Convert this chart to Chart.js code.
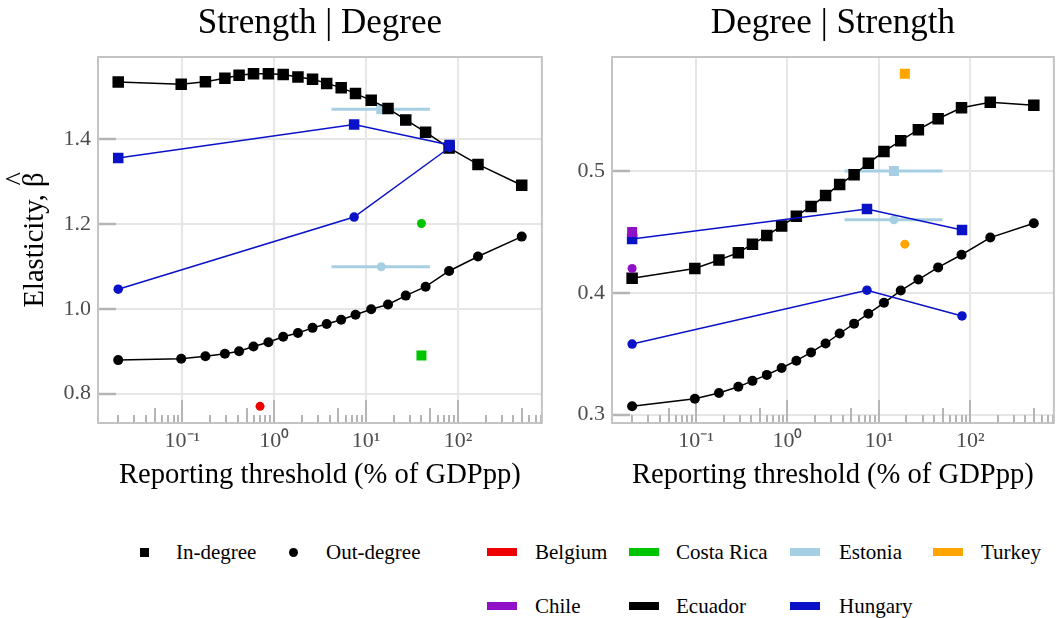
<!DOCTYPE html>
<html>
<head>
<meta charset="utf-8">
<script src="https://cdn.jsdelivr.net/npm/chart.js@4.4.1/dist/chart.umd.min.js"></script>
<style>
  html, body { margin: 0; padding: 0; background: #ffffff; }
  #page { position: relative; width: 1058px; height: 618px; overflow: hidden; background: #ffffff;
          font-family: 'Liberation Serif', 'Times New Roman', serif; }
  #leftWrap { position: absolute; left: 0; top: 0; width: 550px; height: 500px; }
  #rightWrap { position: absolute; left: 550px; top: 0; width: 508px; height: 500px; overflow: hidden; }
  .key { position: absolute; }
  .txt { position: absolute; font-size: 21px; line-height: 24px; color: #000; white-space: nowrap; }
</style>
</head>
<body>
<div id="page">
  <div id="leftWrap"><canvas id="left" width="550" height="500"></canvas></div>
  <div id="rightWrap"><canvas id="right" width="512" height="500"></canvas></div>
  <div id="legend"></div>
</div>
<script>
// ---- thresholds (% of GDP per person) used for the Ecuador sweep ----
const thresholds = [0.02, 0.097, 0.178, 0.29, 0.414, 0.594, 0.863, 1.25, 1.81, 2.61,
                    3.72, 5.35, 7.66, 11.35, 17.3, 27, 44.4, 80, 165, 494];

// Strength | Degree panel
const ecuadorInSD  = [1.534, 1.529, 1.535, 1.543, 1.550, 1.554, 1.554, 1.552, 1.546, 1.541,
                      1.531, 1.521, 1.507, 1.491, 1.472, 1.445, 1.416, 1.379, 1.340, 1.291];
const ecuadorOutSD = [0.879, 0.882, 0.888, 0.894, 0.900, 0.911, 0.921, 0.934, 0.943, 0.955,
                      0.964, 0.974, 0.986, 0.999, 1.010, 1.031, 1.052, 1.089, 1.123, 1.170];
// Degree | Strength panel
const ecuadorInDS  = [0.412, 0.420, 0.427, 0.433, 0.440, 0.447, 0.455, 0.463, 0.471, 0.480,
                      0.489, 0.497, 0.5065, 0.516, 0.525, 0.534, 0.543, 0.552, 0.5565, 0.554];
const ecuadorOutDS = [0.3068, 0.313, 0.3177, 0.3228, 0.3277, 0.3326, 0.3383, 0.3443, 0.3511, 0.3584,
                      0.3666, 0.3747, 0.3829, 0.3918, 0.4019, 0.4109, 0.4209, 0.4313, 0.4454, 0.4571];

const hungaryThresholds = [0.02, 7.4, 81];
const hungaryInSD  = [1.355, 1.434, 1.386];
const hungaryOutSD = [1.046, 1.216, 1.380];
const hungaryInDS  = [0.4443, 0.4688, 0.4516];
const hungaryOutDS = [0.3579, 0.4022, 0.381];

const estoniaThreshold = 14.6;
const estoniaRange = [4.2, 49.4];
const estoniaSD = [1.470, 1.099];   // in, out
const estoniaDS = [0.500, 0.460];

const costaRicaThreshold = 40;
const costaRicaSD = [0.890, 1.201]; // in, out

const belgiumThreshold = 0.70;
const belgiumOutSD = 0.770;

const chileThreshold = 0.02;
const chileDS = [0.450, 0.420];     // in, out

const turkeyThreshold = 19.2;
const turkeyDS = [0.580, 0.440];    // in, out

// axis ticks
const xTickValues = [0.1, 1, 10, 100];
const xTickLabels = ['10\u207B\u00B9', '10\u2070', '10\u00B9', '10\u00B2'];
const yTicksSD = [0.8, 1.0, 1.2, 1.4];
const yTicksDS = [0.3, 0.4, 0.5];

const panelTitles = ['Strength | Degree', 'Degree | Strength'];
const xTitle = 'Reporting threshold (% of GDPpp)';
const yTitle = 'Elasticity, \u03B2';   // the estimator hat is added by the betaHat plugin

const countries = ['Belgium', 'Costa Rica', 'Estonia', 'Turkey', 'Chile', 'Ecuador', 'Hungary'];
const countryColors = {
  'Belgium': '#ee0000', 'Costa Rica': '#00c400', 'Estonia': '#a6cfe4', 'Turkey': '#ffa500',
  'Chile': '#9010c8', 'Ecuador': '#000000', 'Hungary': '#0a12c8'
};

const FONT = "'Liberation Serif', 'Times New Roman', serif";
Chart.defaults.font.family = FONT;
const TITLE_SIZE = 28.6;

// ---- helpers ----
const pts = (xs, ys) => xs.map((x, i) => ({ x: x, y: ys[i] }));

function marks(label, data, color, shape, withLine, size) {
  const square = shape === 'rect';
  return {
    label: label,
    data: data,
    showLine: withLine,
    borderColor: color,
    borderWidth: 1.5,
    backgroundColor: color,
    pointStyle: shape,
    pointRadius: square ? size / Math.SQRT2 : size / 2,
    pointBorderWidth: 0,
    pointBackgroundColor: color,
    pointHoverRadius: 0
  };
}

function bar(label, lo, hi, y, color) {
  return {
    label: label,
    data: [{ x: lo, y: y }, { x: hi, y: y }],
    showLine: true,
    borderColor: color,
    borderWidth: 3,
    pointRadius: 0,
    pointHoverRadius: 0
  };
}

// frame, inward y ticks and log ticks along the bottom of each panel
const panelFrame = {
  id: 'panelFrame',
  beforeDatasetsDraw(chart) {
    const { ctx, chartArea: a } = chart;
    const x = chart.scales.x, y = chart.scales.y;
    ctx.save();
    ctx.strokeStyle = '#b5b5b5';
    ctx.lineWidth = 2;
    const lo = Math.floor(Math.log10(x.min)), hi = Math.ceil(Math.log10(x.max));
    for (let e = lo; e <= hi; e++) {
      for (let k = 1; k <= 9; k++) {
        const v = k * Math.pow(10, e);
        if (v < x.min || v > x.max) continue;
        const px = Math.round(x.getPixelForValue(v));
        const len = k === 1 ? 23 : (k === 5 ? 15 : 8);
        ctx.beginPath();
        ctx.moveTo(px, a.bottom);
        ctx.lineTo(px, a.bottom - len);
        ctx.stroke();
      }
    }
    ctx.lineWidth = 2.5;
    y.ticks.forEach(t => {
      const py = Math.round(y.getPixelForValue(t.value));
      ctx.beginPath();
      ctx.moveTo(a.left, py);
      ctx.lineTo(a.left + 18, py);
      ctx.stroke();
    });
    ctx.strokeStyle = '#c4c4c4';
    ctx.lineWidth = 2;
    ctx.strokeRect(a.left, a.top, a.right - a.left, a.bottom - a.top);
    ctx.restore();
  }
};

// circumflex over the beta of the y-axis title (estimate notation)
const betaHat = {
  id: 'betaHat',
  afterDraw(chart) {
    const s = chart.scales.y;
    const t = s.options.title;
    if (!t.display) return;
    const pad = t.padding.top || 0;
    const lineHeight = TITLE_SIZE * 1.2;
    const cx = s.left + lineHeight / 2 + pad;
    const cy = (s.top + s.bottom) / 2;
    const ctx = chart.ctx;
    ctx.save();
    ctx.font = TITLE_SIZE + 'px ' + FONT;
    ctx.textBaseline = 'middle';
    ctx.textAlign = 'center';
    const W = ctx.measureText(t.text).width;
    const mb = ctx.measureText('\u03B2');
    const mh = ctx.measureText('^');
    ctx.translate(cx, cy);
    ctx.rotate(-Math.PI / 2);
    const bx = W / 2 - mb.width / 2 + 1;
    const betaTop = -mb.actualBoundingBoxAscent;
    const yy = betaTop - 2 - mh.actualBoundingBoxDescent;
    ctx.fillStyle = '#000';
    ctx.fillText('^', bx, yy);
    ctx.restore();
  }
};

function panelOptions(title, yMin, yMax, yTicks, yWidth, showYTitle, padRight) {
  return {
    responsive: false,
    animation: false,
    devicePixelRatio: 1,
    layout: { padding: { left: 0, right: padRight, top: 0, bottom: 0 } },
    plugins: {
      legend: { display: false },
      tooltip: { enabled: false },
      title: {
        display: true, text: title, fullSize: false, color: '#000',
        font: { family: FONT, size: 35, weight: 'normal' },
        padding: { top: 3, bottom: 12 }
      }
    },
    scales: {
      x: {
        type: 'logarithmic',
        min: Math.pow(10, -1.919), max: Math.pow(10, 2.913),
        bounds: 'data',
        afterBuildTicks: s => { s.ticks = xTickValues.map(v => ({ value: v })); },
        afterFit: s => { s.height = 77; },
        ticks: {
          autoSkip: false, maxRotation: 0, padding: 5, color: '#4d4d4d',
          font: { family: FONT, size: 22 },
          callback: (v, i) => xTickLabels[i]
        },
        grid: { color: '#e6e6e6', lineWidth: 2, drawTicks: false },
        border: { display: false },
        title: {
          display: true, text: xTitle, color: '#000',
          font: { family: FONT, size: TITLE_SIZE }, padding: { top: 0, bottom: 7 }
        }
      },
      y: {
        type: 'linear', min: yMin, max: yMax, bounds: 'data',
        afterBuildTicks: s => { s.ticks = yTicks.map(v => ({ value: v })); },
        afterFit: s => { s.width = yWidth; },
        ticks: {
          padding: 7, color: '#4d4d4d', font: { family: FONT, size: 22 },
          callback: v => Number(v).toFixed(1)
        },
        grid: { color: '#e6e6e6', lineWidth: 2, drawTicks: false },
        border: { display: false },
        title: {
          display: showYTitle, text: yTitle, color: '#000',
          font: { family: FONT, size: TITLE_SIZE }, padding: { top: 18, bottom: 0 }
        }
      }
    }
  };
}

const C = countryColors;
const BIG = 11.5, SMALL = 10;

// Strength | Degree
new Chart(document.getElementById('left'), {
  type: 'line',
  data: {
    datasets: [
      marks('Hungary in', pts(hungaryThresholds, hungaryInSD), C['Hungary'], 'rect', true, 10.5),
      marks('Hungary out', pts(hungaryThresholds, hungaryOutSD), C['Hungary'], 'circle', true, 9.5),
      marks('Costa Rica in', [{ x: costaRicaThreshold, y: costaRicaSD[0] }], C['Costa Rica'], 'rect', false, SMALL),
      marks('Costa Rica out', [{ x: costaRicaThreshold, y: costaRicaSD[1] }], C['Costa Rica'], 'circle', false, 9),
      marks('Belgium out', [{ x: belgiumThreshold, y: belgiumOutSD }], C['Belgium'], 'circle', false, 9),
      marks('Ecuador in', pts(thresholds, ecuadorInSD), C['Ecuador'], 'rect', true, BIG),
      marks('Ecuador out', pts(thresholds, ecuadorOutSD), C['Ecuador'], 'circle', true, 10),
      marks('Estonia in', [{ x: estoniaThreshold, y: estoniaSD[0] }], C['Estonia'], 'rect', false, SMALL),
      marks('Estonia out', [{ x: estoniaThreshold, y: estoniaSD[1] }], C['Estonia'], 'circle', false, 9),
      bar('Estonia in range', estoniaRange[0], estoniaRange[1], estoniaSD[0], C['Estonia']),
      bar('Estonia out range', estoniaRange[0], estoniaRange[1], estoniaSD[1], C['Estonia'])
    ]
  },
  options: panelOptions(panelTitles[0], 0.7308, 1.5932, yTicksSD, 98, true, 2),
  plugins: [panelFrame, betaHat]
});

// Degree | Strength
new Chart(document.getElementById('right'), {
  type: 'line',
  data: {
    datasets: [
      marks('Chile in', [{ x: chileThreshold, y: chileDS[0] }], C['Chile'], 'rect', false, SMALL),
      marks('Chile out', [{ x: chileThreshold, y: chileDS[1] }], C['Chile'], 'circle', false, 9),
      marks('Hungary in', pts(hungaryThresholds, hungaryInDS), C['Hungary'], 'rect', true, 10.5),
      marks('Hungary out', pts(hungaryThresholds, hungaryOutDS), C['Hungary'], 'circle', true, 9.5),
      marks('Turkey in', [{ x: turkeyThreshold, y: turkeyDS[0] }], C['Turkey'], 'rect', false, SMALL),
      marks('Turkey out', [{ x: turkeyThreshold, y: turkeyDS[1] }], C['Turkey'], 'circle', false, 9),
      marks('Ecuador in', pts(thresholds, ecuadorInDS), C['Ecuador'], 'rect', true, BIG),
      marks('Ecuador out', pts(thresholds, ecuadorOutDS), C['Ecuador'], 'circle', true, 10),
      marks('Estonia in', [{ x: estoniaThreshold, y: estoniaDS[0] }], C['Estonia'], 'rect', false, SMALL),
      marks('Estonia out', [{ x: estoniaThreshold, y: estoniaDS[1] }], C['Estonia'], 'circle', false, 9),
      bar('Estonia in range', estoniaRange[0], estoniaRange[1], estoniaDS[0], C['Estonia']),
      bar('Estonia out range', estoniaRange[0], estoniaRange[1], estoniaDS[1], C['Estonia'])
    ]
  },
  options: panelOptions(panelTitles[1], 0.2931, 0.5937, yTicksDS, 62, false, 0),
  plugins: [panelFrame]
});

// ---- legend ----
const legend = document.getElementById('legend');
function add(el) { legend.appendChild(el); return el; }
function box(left, top, w, h, color, round) {
  const d = document.createElement('div');
  d.className = 'key';
  Object.assign(d.style, { left: left + 'px', top: top + 'px', width: w + 'px', height: h + 'px',
    background: color, borderRadius: round ? '50%' : '0' });
  return add(d);
}
function text(left, cy, s) {
  const d = document.createElement('div');
  d.className = 'txt';
  d.style.left = left + 'px';
  d.style.top = (cy - 12) + 'px';
  d.textContent = s;
  return add(d);
}
const row1 = 552, row2 = 606;
box(139.5, row1 - 4.5, 9, 9, '#000', false); text(176, row1, 'In-degree');
box(288.5, row1 - 4.5, 9, 9, '#000', true);  text(326, row1, 'Out-degree');
const legendSlots = [
  [487, 535, row1], [629, 676, row1], [790, 839, row1], [933, 981, row1],
  [487, 535, row2], [629, 676, row2], [790, 839, row2]
];
countries.forEach((name, i) => {
  const [sx, tx, cy] = legendSlots[i];
  box(sx, cy - 4, 30, 8, countryColors[name], false);
  text(tx, cy, name);
});
</script>
</body>
</html>
